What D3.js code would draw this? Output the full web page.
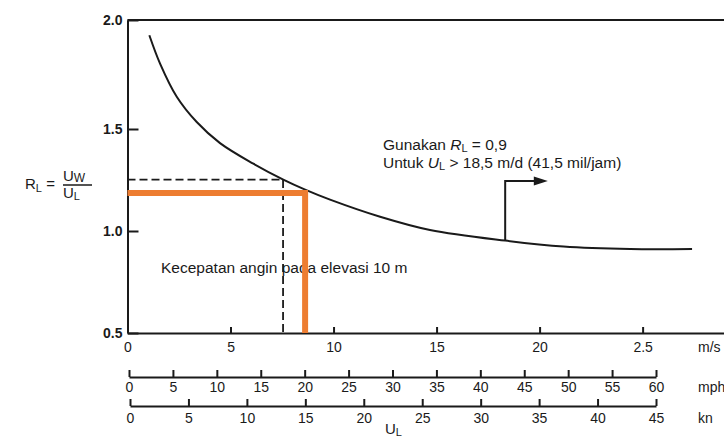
<!DOCTYPE html>
<html>
<head>
<meta charset="utf-8">
<script src="https://cdn.jsdelivr.net/npm/d3@7"></script>
<style>
  html, body { margin: 0; padding: 0; background: #fff; }
  svg { display: block; }
  text { font-family: "Liberation Sans", Arial, sans-serif; fill: #1a1a1a; }
</style>
</head>
<body>
<svg id="chart" width="724" height="441"></svg>
<script>
// ---- data ----
const windSpeed = [1.06, 1.58, 2.39, 3.36, 4.49, 6.11, 7.56, 8.62, 9.83, 12.26, 14.68, 18.33, 21.16, 24.4, 27.4]; // U_L, m/s
const ratioRL   = [1.93, 1.80, 1.648, 1.532, 1.431, 1.330, 1.252, 1.203, 1.154, 1.07, 1.005, 0.953, 0.924, 0.912, 0.912];

const msTicks = [0, 5, 10, 15, 20, 25];
const msTickLabels = ["0", "5", "10", "15", "20", "2.5"];
const mphTicks = [0, 5, 10, 15, 20, 25, 30, 35, 40, 45, 50, 55, 60];
const knTicks = [0, 5, 10, 15, 20, 25, 30, 35, 40, 45];
const yTicks = [0.5, 1.0, 1.5, 2.0];
const yTickLabels = ["0.5", "1.0", "1.5", "2.0"];

const dashedGuide = { u: 7.55, r: 1.252 };   // black dashed read-off
const orangeGuide = { u: 8.62, r: 1.186 };   // orange read-off
const arrowNote = { u0: 18.33, r0: 0.953, r1: 1.245, u1: 20.4 };

// ---- drawing ----
const svg = d3.select("#chart");
svg.append("rect").attr("width", 724).attr("height", 441).attr("fill", "#fff");

const ink = "#1a1a1a";
const x = d3.scaleLinear().domain([0, 28.95]).range([127.5, 724]);
const y = d3.scaleLinear().domain([0.5, 1.0, 1.5, 2.0]).range([333, 231, 129, 20]);
const xMph = d3.scaleLinear().domain([0, 60]).range([129, 656]);
const xKn = d3.scaleLinear().domain([0, 45]).range([130, 656]);

function styleAxis(g, width) {
  g.selectAll("path.domain").attr("stroke", ink).attr("stroke-width", width);
  g.selectAll(".tick line").attr("stroke", ink).attr("stroke-width", width);
  g.selectAll(".tick text").attr("fill", ink).style("font-size", "14px")
    .style("font-family", '"Liberation Sans", Arial, sans-serif');
}

// left (R_L) axis
const gy = svg.append("g").attr("transform", "translate(127.5,0)")
  .call(d3.axisLeft(y).tickValues(yTicks).tickFormat((d, i) => yTickLabels[i])
    .tickSizeInner(-11).tickSizeOuter(0).tickPadding(5));
styleAxis(gy, 2);
gy.selectAll(".tick text").style("font-weight", "bold");

// top frame line
svg.append("line").attr("x1", 127.5).attr("x2", 724).attr("y1", y(2.0)).attr("y2", y(2.0))
  .attr("stroke", ink).attr("stroke-width", 2);

// bottom m/s axis
const gx = svg.append("g").attr("transform", "translate(0,333)")
  .call(d3.axisBottom(x).tickValues(msTicks).tickFormat((d, i) => msTickLabels[i])
    .tickSizeInner(-6).tickSizeOuter(0).tickPadding(9));
styleAxis(gx, 2);

// mph axis
const gMph = svg.append("g").attr("transform", "translate(0,377)")
  .call(d3.axisBottom(xMph).tickValues(mphTicks).tickSizeInner(-7).tickSizeOuter(0).tickPadding(5));
styleAxis(gMph, 2);

// kn axis
const gKn = svg.append("g").attr("transform", "translate(0,406)")
  .call(d3.axisBottom(xKn).tickValues(knTicks).tickSizeInner(-7).tickSizeOuter(0).tickPadding(7));
styleAxis(gKn, 2);

// unit labels
const units = [["m/s", 352], ["mph", 392], ["kn", 423]];
svg.selectAll("text.unit").data(units).join("text").attr("class", "unit")
  .attr("x", 698).attr("y", d => d[1]).style("font-size", "14px").text(d => d[0]);

// U_L axis title
const ulT = svg.append("text").attr("x", 385).attr("y", 434).style("font-size", "15px");
ulT.append("tspan").text("U");
ulT.append("tspan").attr("dy", 2).style("font-size", "11px").text("L");

// text in plot
svg.append("text").attr("x", 161).attr("y", 273).style("font-size", "15.5px")
  .text("Kecepatan angin pada elevasi 10 m");

// curve
svg.append("path")
  .datum(windSpeed.map((u, i) => [u, ratioRL[i]]))
  .attr("fill", "none").attr("stroke", ink).attr("stroke-width", 2)
  .attr("d", d3.line().x(d => x(d[0])).y(d => y(d[1])).curve(d3.curveCatmullRom.alpha(0.5)));

// dashed guides
svg.append("path")
  .attr("d", `M${x(0)},${y(dashedGuide.r)}H${x(dashedGuide.u)}V${y(0.5)}`)
  .attr("fill", "none").attr("stroke", ink).attr("stroke-width", 1.8)
  .attr("stroke-dasharray", "8,4");

// orange guides
svg.append("path")
  .attr("d", `M${x(0)},${y(orangeGuide.r)}H${x(orangeGuide.u)}V${y(0.5)}`)
  .attr("fill", "none").attr("stroke", "#ED7D31").attr("stroke-width", 6)
  .attr("stroke-linejoin", "miter");

// annotation arrow
svg.append("path")
  .attr("d", `M${x(arrowNote.u0)},${y(arrowNote.r0)}V${y(arrowNote.r1)}H${x(arrowNote.u1) - 12}`)
  .attr("fill", "none").attr("stroke", ink).attr("stroke-width", 2);
const ax = x(arrowNote.u1), ay = y(arrowNote.r1);
svg.append("path")
  .attr("d", `M${ax},${ay}L${ax - 14},${ay - 4.5}L${ax - 14},${ay + 4.5}Z`)
  .attr("fill", ink);

// annotation text
const t1 = svg.append("text").attr("x", 383).attr("y", 150).style("font-size", "15.5px");
t1.append("tspan").text("Gunakan ");
t1.append("tspan").style("font-style", "italic").text("R");
t1.append("tspan").attr("dy", 2).style("font-size", "11px").text("L");
t1.append("tspan").attr("dy", -2).text(" = 0,9");
const t2 = svg.append("text").attr("x", 383).attr("y", 168).style("font-size", "15.5px");
t2.append("tspan").text("Untuk ");
t2.append("tspan").style("font-style", "italic").text("U");
t2.append("tspan").attr("dy", 2).style("font-size", "11px").text("L");
t2.append("tspan").attr("dy", -2).text(" > 18,5 m/d (41,5 mil/jam)");

// y-axis title: R_L = U_W / U_L
const yl = svg.append("text").attr("x", 25).attr("y", 189).style("font-size", "15px");
yl.append("tspan").text("R");
yl.append("tspan").attr("dy", 3).style("font-size", "11px").text("L");
yl.append("tspan").attr("dy", -3).text(" =");
const num = svg.append("text").attr("x", 63).attr("y", 181).style("font-size", "15px");
num.append("tspan").text("U");
num.append("tspan").attr("dy", 1).style("font-size", "12px").text("W");
svg.append("line").attr("x1", 63).attr("x2", 92).attr("y1", 185).attr("y2", 185)
  .attr("stroke", ink).attr("stroke-width", 1.5);
const den = svg.append("text").attr("x", 63).attr("y", 198).style("font-size", "15px");
den.append("tspan").text("U");
den.append("tspan").attr("dy", 2).style("font-size", "11px").text("L");
</script>
</body>
</html>
